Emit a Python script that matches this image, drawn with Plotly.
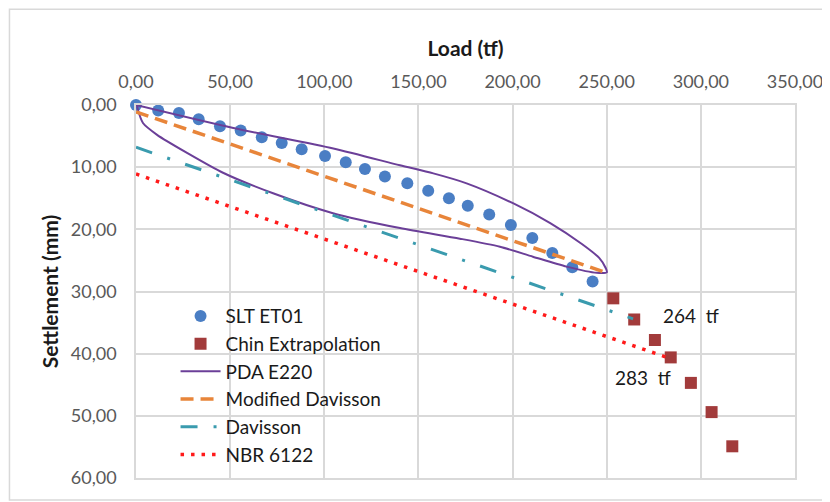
import plotly.graph_objects as go

# ---- data ----
slt_load = [0, 11.8, 22.8, 33.3, 44.6, 55.6, 66.8, 77.4, 88.0, 100.4, 111.4, 121.6,
            132.2, 144.1, 155.2, 166.2, 176.2, 187.6, 199.1, 210.5, 221.1, 231.7, 242.5]
slt_settle = [0, 0.9, 1.3, 2.3, 3.4, 4.1, 5.2, 6.1, 7.1, 8.2, 9.2, 10.3,
              11.5, 12.6, 13.8, 15.0, 16.2, 17.6, 19.3, 21.4, 23.8, 26.1, 28.4]

chin_load = [253.5, 264.6, 275.6, 284.0, 294.7, 305.7, 316.7]
chin_settle = [31.1, 34.5, 37.8, 40.6, 44.7, 49.4, 54.9]

pda_load = [0, 51.7, 104.8, 140.2, 157.9, 175.6, 200.2, 220.0, 237.0, 246.0, 249.6, 250.1,
            244.7, 228.7, 210.8, 193.3, 172.0, 140.2, 104.6, 72.8, 46.2, 27.1, 11.2, 3.7, 0.5]
pda_settle = [0, 3.7, 7.0, 9.7, 11.0, 12.6, 15.8, 19.0, 22.4, 24.6, 26.3, 26.9,
              27.0, 26.0, 24.4, 22.8, 21.5, 19.8, 17.4, 14.2, 10.9, 7.7, 4.8, 2.9, 0.2]

mod_dav_load = [0, 250]
mod_dav_settle = [1.1, 27.0]

dav_load = [0, 264]
dav_settle = [6.8, 34.4]

nbr_load = [0, 283]
nbr_settle = [11.1, 40.7]

x_ticks = [0, 50, 100, 150, 200, 250, 300, 350]
y_ticks = [0, 10, 20, 30, 40, 50, 60]

label_texts = ["264  tf", "283  tf"]
label_load = [294.8, 269.3]
label_settle = [33.8, 43.9]

FONT = "Lato, 'Open Sans', sans-serif"

fig = go.Figure()

fig.add_trace(go.Scatter(
    x=slt_load, y=slt_settle, mode="markers", name="SLT ET01",
    marker=dict(symbol="circle", size=12, color="#4A7EC4"), cliponaxis=False))
fig.add_trace(go.Scatter(
    x=chin_load, y=chin_settle, mode="markers", name="Chin Extrapolation",
    marker=dict(symbol="square", size=12, color="#A23B3B"), cliponaxis=False))
fig.add_trace(go.Scatter(
    x=pda_load, y=pda_settle, mode="lines", name="PDA E220",
    line=dict(color="#6B3F98", width=2, shape="spline", smoothing=0.7)))
fig.add_trace(go.Scatter(
    x=mod_dav_load, y=mod_dav_settle, mode="lines", name="Modified Davisson",
    line=dict(color="#E8853A", width=3.5, dash="13px,7px")))
fig.add_trace(go.Scatter(
    x=dav_load, y=dav_settle, mode="lines", name="Davisson",
    line=dict(color="#3A9BAE", width=3, dash="17px,16px,3px,16px")))
fig.add_trace(go.Scatter(
    x=nbr_load, y=nbr_settle, mode="lines", name="NBR 6122",
    line=dict(color="#FF1A1A", width=3.5, dash="3.5px,7px")))

for t, xv, yv in zip(label_texts, label_load, label_settle):
    fig.add_annotation(x=xv, y=yv, text=t, showarrow=False,
                       font=dict(family=FONT, size=19, color="#1A1A1A"))

# outer chart border
fig.add_shape(type="rect", xref="paper", yref="paper",
              x0=-0.192, x1=1.08, y0=-0.059, y1=1.257,
              line=dict(color="#D9D9D9", width=1.5), layer="below")

fig.update_layout(
    width=830, height=502,
    margin=dict(l=128, r=43, t=97, b=32, autoexpand=False),
    paper_bgcolor="white", plot_bgcolor="white",
    separators=",.",
    font=dict(family=FONT, size=18, color="#595959"),
    showlegend=True,
    legend=dict(x=0.060, y=0.485, xanchor="left", yanchor="top",
                bgcolor="rgba(0,0,0,0)", borderwidth=0,
                font=dict(family=FONT, size=19, color="#1A1A1A"),
                itemwidth=40),
    xaxis=dict(
        side="top", range=[0, 350], tickvals=x_ticks, tickformat=".2f",
        automargin=False,
        showgrid=True, gridcolor="#D9D9D9", gridwidth=1.5,
        showline=True, linecolor="#D9D9D9", linewidth=1.5, mirror=True,
        zeroline=False, ticks="outside", ticklen=8, tickcolor="rgba(0,0,0,0)",
        title=dict(text="<b>Load (tf)</b>", standoff=8,
                   font=dict(family=FONT, size=21, color="#1A1A1A")),
    ),
    yaxis=dict(
        range=[60, 0], tickvals=y_ticks, tickformat=".2f",
        automargin=False,
        showgrid=True, gridcolor="#D9D9D9", gridwidth=1.5,
        showline=True, linecolor="#D9D9D9", linewidth=1.5, mirror=True,
        zeroline=False, ticks="outside", ticklen=14, tickcolor="rgba(0,0,0,0)",
        title=dict(text="<b>Settlement (mm)</b>", standoff=6,
                   font=dict(family=FONT, size=21, color="#1A1A1A")),
    ),
)

fig.write_html("out.html")
